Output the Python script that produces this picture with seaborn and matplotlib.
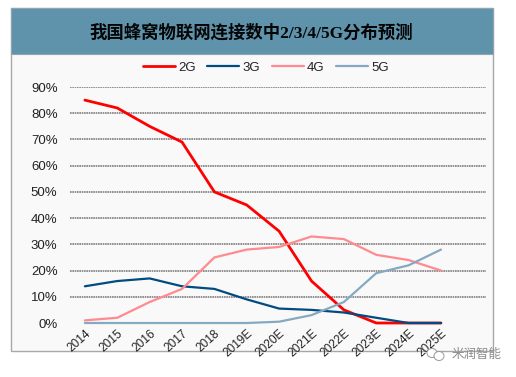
import matplotlib
matplotlib.use("Agg")
import matplotlib.pyplot as plt
import pandas as pd
import seaborn as sns
from matplotlib.patches import Ellipse, Rectangle

years = ["2014", "2015", "2016", "2017", "2018", "2019E", "2020E", "2021E", "2022E", "2023E", "2024E", "2025E"]
g2 = [85, 82, 75, 69, 50, 45, 35, 16, 5, 0, 0, 0]
g3 = [14, 16, 17, 14, 13, 9, 5.5, 5, 4, 2, 0, 0]
g4 = [1, 2, 8, 13, 25, 28, 29, 33, 32, 26, 24, 20]
g5 = [0, 0, 0, 0, 0, 0, 0.5, 3, 8, 19, 22, 28]
yticks = [0, 10, 20, 30, 40, 50, 60, 70, 80, 90]
title = "我国蜂窝物联网连接数中2/3/4/5G分布预测"
colors = {"2G": "#ff0000", "3G": "#004b7f", "4G": "#ff8a8f", "5G": "#86a9c2"}
widths = {"2G": 2.0, "3G": 1.6, "4G": 1.6, "5G": 1.6}

sns.set_style("white")
plt.rcParams["font.family"] = ["Liberation Sans", "Noto Sans CJK SC", "DejaVu Sans"]

W, H = 516, 377
fig = plt.figure(figsize=(W / 100, H / 100), dpi=100, facecolor="white")


def box(x0, y0, x1, y1):
    # pixel box, y measured from the top
    return [x0 / W, 1 - y1 / H, (x1 - x0) / W, (y1 - y0) / H]


# panel and header, kept under the axes
x, y, w, h = box(10.5, 8, 493, 351)
fig.add_artist(Rectangle((x, y), w, h, transform=fig.transFigure, fc="#f9f9f9", ec="#a8a8a8", lw=1, zorder=-2))
x, y, w, h = box(10.5, 8, 493, 54)
fig.add_artist(Rectangle((x, y), w, h, transform=fig.transFigure, fc="#5f92ab", ec="#8fa5b0", lw=0.8, zorder=-1))
fig.text(251 / W, 1 - 32.5 / H, title, ha="center", va="center", fontsize=12.5, fontweight="bold",
         family=["Liberation Serif", "Noto Sans CJK SC", "DejaVu Sans"], color="#050505")

ax = fig.add_axes(box(70, 87, 486, 323))
ax.patch.set_alpha(0)

df = pd.DataFrame({"year": years, "2G": g2, "3G": g3, "4G": g4, "5G": g5})
long = df.melt(id_vars="year", var_name="type", value_name="share")

for name, part in long.groupby("type", sort=True):
    sns.lineplot(data=part, x="year", y="share", ax=ax, color=colors[name], lw=widths[name],
                 label=name, clip_on=False, zorder=3, solid_joinstyle="miter", errorbar=None)

ax.set_xlim(-0.46, 12.39)
ax.set_ylim(0, 90)
ax.set_yticks(yticks)
ax.set_yticklabels([f"{v}%" for v in yticks], fontsize=9.5, color="#222222")
ax.set_xticks(range(len(years)))
ax.set_xticklabels(years, fontsize=8.6, color="#222222", rotation=42, ha="right", rotation_mode="anchor")
ax.tick_params(axis="both", length=0)
ax.tick_params(axis="x", pad=3)
ax.tick_params(axis="y", pad=9)
ax.set_xlabel("")
ax.set_ylabel("")
ax.yaxis.grid(True, color="#7f7f7f", lw=1.2, ls=(0, (1, 0.4)))
ax.yaxis.get_gridlines()[0].set_visible(False)
ax.xaxis.grid(False)
ax.set_axisbelow(True)
sns.despine(ax=ax, left=True, bottom=True)

ax.legend(loc="center", bbox_to_anchor=(266 / W, 1 - 68 / H), bbox_transform=fig.transFigure, ncol=4,
          frameon=False, fontsize=9.5, handlelength=2.4, handletextpad=0.25, columnspacing=0.9,
          labelcolor="#222222")

# watermark
fig.text(452 / W, 1 - 354.5 / H, "米润智能", ha="left", va="center", fontsize=9,
         family=["Noto Sans CJK SC", "DejaVu Sans"], color="#8c8c8c")
fig.add_artist(Ellipse((432 / W, 1 - 353 / H), 10 / W, 9 / H, transform=fig.transFigure, fc="white", ec="#999999", lw=0.7))
fig.add_artist(Ellipse((439 / W, 1 - 356 / H), 10 / W, 9 / H, transform=fig.transFigure, fc="white", ec="#999999", lw=0.7))

fig.savefig("out.png", dpi=100)
